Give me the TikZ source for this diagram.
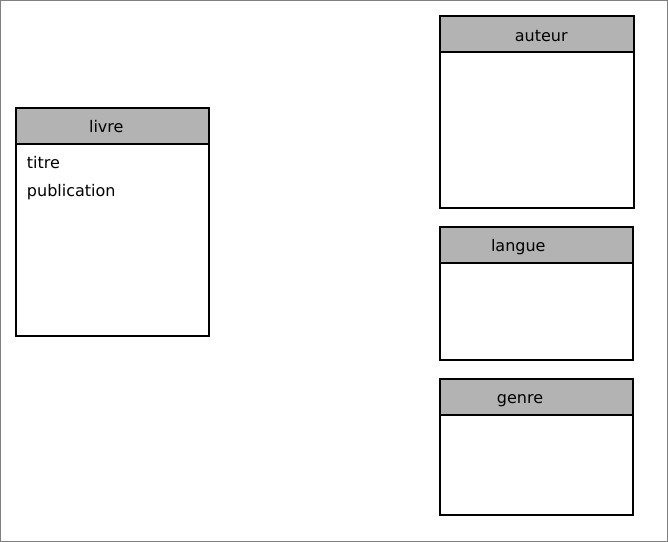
\documentclass[tikz,border=0pt]{standalone}
\usepackage{fontspec}
\setmainfont{DejaVu Sans}
\usetikzlibrary{positioning}
\definecolor{entetegris}{RGB}{179,179,179}
\tikzset{
	cadre/.style={draw=black, line width=1.5pt, fill=white},
	entete/.style={draw=black, line width=1.5pt, fill=entetegris},
	nomtable/.style={font=\fontsize{12}{14}\selectfont, anchor=base, inner sep=0pt},
	attr/.style={font=\fontsize{12}{14}\selectfont, anchor=base west, inner sep=0pt},
}

\begin{document}
\begin{tikzpicture}[x=0.75pt, y=-0.75pt]
	\useasboundingbox (0,0) rectangle (668,542);
	\draw [gray, line width=0.75pt] (0.5,0.5) rectangle (667.5,541.5);
	%
	\draw [cadre] (15.5,108.5) rectangle (208.7,336);
	\draw [entete] (15.5,108.5) rectangle (208.7,144);
	\draw [cadre] (439.5,16) rectangle (633.5,207.5);
	\draw [entete] (439.5,16) rectangle (633.5,52.5);
	\draw [cadre] (439.5,227.3) rectangle (632.5,359.5);
	\draw [entete] (439.5,227.3) rectangle (632.5,262.5);
	\draw [cadre] (439.5,379) rectangle (632.5,514.5);
	\draw [entete] (439.5,379) rectangle (632.5,414.5);
	%
	\node [nomtable] (livre) at (106.3,132.3) {livre};
	\node [nomtable] (auteur) at (541.3,41.7) {auteur};
	\node [nomtable] (langue) at (518.3,251) {langue};
	\node [nomtable] (genre) at (520,403.3) {genre};
	%
	\node [attr] (titre) at (26.7,168) {titre};
	\node [attr] (publication) at (26.7,196.7) {publication};
\end{tikzpicture}
\end{document}
